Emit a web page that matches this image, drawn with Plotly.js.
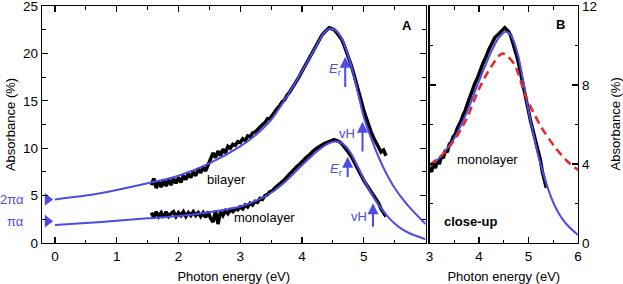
<!DOCTYPE html>
<html><head><meta charset="utf-8">
<script src="https://cdn.plot.ly/plotly-3.0.1.min.js"></script>
<style>html,body{margin:0;padding:0;background:#fff}</style>
</head><body><div id="chart" style="width:623px;height:284px"></div>
<script>
// measured data (photon energy, eV)
const energy = [1.56,1.60,1.64,1.68,1.72,1.76,1.80,1.84,1.88,1.92,1.96,
2.00,2.04,2.08,2.12,2.16,2.20,2.24,2.28,2.32,2.36,2.40,2.44,2.48,2.52,2.56,2.60,2.64,2.68,2.72,2.76,2.80,2.84,2.88,2.92,2.96,
3.00,3.04,3.08,3.12,3.16,3.20,3.24,3.28,3.32,3.36,3.40,3.44,3.48,3.52,3.56,3.60,3.64,3.68,3.72,3.76,3.80,3.84,3.88,3.92,3.96,
4.00,4.04,4.08,4.12,4.16,4.20,4.24,4.28,4.32,4.36,4.40,4.44,4.48,4.52,4.56,4.60,4.64,4.68,4.72,4.76,4.80,4.84,4.88,4.92,4.96,
5.00,5.04,5.08,5.12,5.16,5.20,5.24,5.28,5.32,5.36];
// measured absorbance (%)
const bilayerData = [6.1,6.8,5.8,6.5,5.9,6.6,6.0,6.7,6.1,6.8,6.3,
6.9,6.4,7.1,6.7,7.3,6.9,7.5,7.1,7.8,7.4,8.0,7.6,8.3,8.9,9.5,9.0,9.7,9.2,9.9,9.5,10.2,10.0,10.4,10.3,10.7,
10.6,11.0,10.8,11.3,11.2,11.6,11.7,12.0,12.2,12.5,12.7,13.1,13.1,13.5,13.8,14.2,14.5,14.9,15.1,15.6,15.9,16.3,16.7,17.2,17.6,
18.1,18.6,19.1,19.6,20.1,20.6,21.0,21.5,21.9,22.2,22.5,22.7,22.6,22.5,22.2,21.9,21.5,20.9,20.2,19.5,18.7,17.8,16.8,15.8,14.9,
14.0,13.2,12.4,11.7,11.1,10.5,10.1,9.6,9.8,9.2];
const monolayerData = [3.2,2.7,3.3,2.8,3.2,2.7,3.3,2.8,3.1,3.3,2.8,
3.2,2.9,3.3,2.8,3.2,2.9,3.3,2.9,3.2,2.8,3.2,2.7,3.3,2.6,2.2,3.4,2.0,3.3,2.9,3.4,3.1,3.5,3.3,3.6,3.5,
3.8,3.6,4.0,3.8,4.2,4.0,4.4,4.3,4.7,4.6,5.0,5.1,5.4,5.5,5.8,6.0,6.2,6.5,6.7,7.0,7.3,7.5,7.8,8.1,8.3,
8.6,8.8,9.1,9.3,9.6,9.8,10.0,10.2,10.4,10.5,10.6,10.7,10.8,10.9,10.8,10.7,10.5,10.2,9.9,9.5,9.1,8.6,8.1,7.6,7.0,
6.6,6.2,5.8,5.4,5.0,4.7,4.2,3.6,3.2,2.8];
// model fits
const fitEnergyBi = [0,0.5,1,1.5,2,2.5,3,3.25,3.5,3.75,4,4.25,4.35,4.45,4.55,4.65,4.78,4.89,5.0,5.1,5.2,5.3,5.4,5.5,5.6,5.75,6.0];
const fitBilayer  = [4.6,5.0,5.6,6.3,7.1,8.4,10.2,11.4,13.0,15.4,18.1,21.0,22.1,22.6,22.4,21.5,19.1,16.3,13.3,11.4,9.7,8.2,6.9,5.8,4.9,3.7,2.0];
const fitEnergyMono = [0,0.5,1,1.5,2,2.5,3,3.25,3.5,3.75,4,4.25,4.4,4.54,4.65,4.78,4.9,5.0,5.1,5.2,5.3,5.4,5.5,5.6,5.75,6.0];
const fitMonolayer  = [1.9,2.1,2.35,2.6,2.85,3.25,3.85,4.45,5.3,6.6,8.2,9.7,10.4,10.7,10.5,9.6,8.1,6.7,5.5,4.4,3.5,2.7,2.05,1.55,1.0,0.4];
const redEnergy = [3.0,3.25,3.5,3.75,4.0,4.25,4.47,4.7,4.95,5.25,5.55,5.8,6.0];
const redCurve  = [3.95,4.45,5.2,6.3,7.8,8.95,9.6,9.1,7.4,5.9,4.8,4.1,3.7];
// universal levels
const levelLabels = ['2πα','πα'];
const levelValues = [4.6, 2.3];
// x tick labels
const xTicksA = [0,1,2,3,4,5];
const xTicksB = [3,4,5,6];

const BLUE = '#4b4be6';
const RED = '#e8262b';
const FONT = 'Liberation Sans, Arial, sans-serif';

const traces = [
  {x: energy, y: bilayerData, xaxis:'x', yaxis:'y', mode:'lines', line:{color:'#000', width:3.5}},
  {x: energy, y: monolayerData, xaxis:'x', yaxis:'y', mode:'lines', line:{color:'#000', width:3.5}},
  {x: fitEnergyBi, y: fitBilayer, xaxis:'x', yaxis:'y', mode:'lines', line:{color:BLUE, width:2, shape:'spline', smoothing:0.8}},
  {x: fitEnergyMono, y: fitMonolayer, xaxis:'x', yaxis:'y', mode:'lines', line:{color:BLUE, width:2, shape:'spline', smoothing:0.8}},
  {x: levelValues.map(()=>-0.12), y: levelValues, xaxis:'x', yaxis:'y', mode:'markers', cliponaxis:false,
   marker:{symbol:'triangle-right', size:11, color:BLUE, line:{width:0}}},
  {x: energy, y: monolayerData, xaxis:'x2', yaxis:'y2', mode:'lines', line:{color:'#000', width:3.5}},
  {x: fitEnergyMono, y: fitMonolayer, xaxis:'x2', yaxis:'y2', mode:'lines', line:{color:BLUE, width:2, shape:'spline', smoothing:0.8}},
  {x: redEnergy, y: redCurve, xaxis:'x2', yaxis:'y2', mode:'lines', line:{color:RED, width:2.5, dash:'8px,5px', shape:'spline', smoothing:0.8}}
];

const axBase = {showline:true, linecolor:'#000', linewidth:1.3, mirror:'ticks', ticks:'inside', ticklen:6, tickwidth:1.1, tickcolor:'#000',
  showgrid:false, zeroline:false, ticklabeloverflow:'allow', tickfont:{size:13.5, family:FONT, color:'#000'}};

function arrow(xr, yr, x, y0, y1){
  return {xref:xr, yref:yr, axref:xr, ayref:yr, x:x, y:y1, ax:x, ay:y0, text:'', showarrow:true,
    arrowhead:2, arrowsize:1.1, arrowwidth:2, arrowcolor:BLUE, standoff:0, startstandoff:0};
}
function label(xr, yr, x, y, t, opts){
  return Object.assign({xref:xr, yref:yr, x:x, y:y, text:t, showarrow:false, xanchor:'center', yanchor:'middle',
    font:{size:13, family:FONT, color:'#000'}}, opts||{});
}

const annotations = [
  label('x','y',5.7,22.9,'<b>A</b>'),
  label('x2','y2',5.65,11.04,'<b>B</b>'),
  label('x','y',2.78,6.65,'bilayer'),
  label('x','y',3.4,2.7,'monolayer'),
  label('x2','y2',4.17,4.24,'monolayer'),
  label('x2','y2',3.83,1.08,'<b>close-up</b>'),
  label('x','y',4.53,18.3,'<i>E</i><sub>r</sub>',{font:{size:13,family:FONT,color:BLUE}}),
  label('x','y',4.73,11.6,'vH',{font:{size:13,family:FONT,color:BLUE}}),
  label('x','y',4.55,7.8,'<i>E</i><sub>r</sub>',{font:{size:13,family:FONT,color:BLUE}}),
  label('x','y',4.92,2.8,'vH',{font:{size:13,family:FONT,color:BLUE}}),
  arrow('x','y',4.70,16.3,19.65),
  arrow('x','y',4.98,9.5,12.8),
  arrow('x','y',4.74,6.8,9.1),
  arrow('x','y',5.15,1.55,4.2),
  label('x','y',-0.21,levelValues[0],levelLabels[0],{xanchor:'right', xshift:-16, font:{size:13,family:FONT,color:BLUE}}),
  label('x','y',-0.21,levelValues[1],levelLabels[1],{xanchor:'right', xshift:-16, font:{size:13,family:FONT,color:BLUE}}),
  {xref:'paper', yref:'paper', x:1, y:0.5, xshift:37, text:'Absorbance (%)', textangle:-90, showarrow:false,
   xanchor:'center', yanchor:'middle', font:{size:13, family:FONT, color:'#000'}}
];

const layout = {
  width:623, height:284, showlegend:false,
  margin:{l:42, r:45, t:6, b:41, pad:0},
  paper_bgcolor:'#fff', plot_bgcolor:'#fff',
  font:{family:FONT, size:13, color:'#000'},
  xaxis: Object.assign({}, axBase, {domain:[0,0.7155], range:[-0.21,6.0], tickmode:'array', tickvals:xTicksA,
    minor:{tickmode:'linear', tick0:0, dtick:0.5, ticks:'inside', ticklen:3.5, tickcolor:'#000', tickwidth:1},
    title:{text:'Photon energy (eV)', font:{size:13, family:FONT}, standoff:10}, anchor:'y'}),
  yaxis: Object.assign({}, axBase, {domain:[0,1], range:[0,25], tick0:0, dtick:5,
    minor:{tick0:0, dtick:2.5, ticks:'inside', ticklen:3.5, tickcolor:'#000', tickwidth:1},
    title:{text:'Absorbance (%)', font:{size:13, family:FONT}, standoff:4}, anchor:'x'}),
  xaxis2: Object.assign({}, axBase, {domain:[0.723,1], range:[3,6], tickmode:'array', tickvals:xTicksB,
    minor:{tickmode:'linear', tick0:3, dtick:0.5, ticks:'inside', ticklen:3.5, tickcolor:'#000', tickwidth:1},
    title:{text:'Photon energy (eV)', font:{size:13, family:FONT}, standoff:10}, anchor:'y2'}),
  yaxis2: Object.assign({}, axBase, {domain:[0,1], range:[0,12], tick0:0, dtick:4, side:'right',
    minor:{tick0:0, dtick:2, ticks:'inside', ticklen:3.5, tickcolor:'#000', tickwidth:1},
    anchor:'x2'}),
  annotations: annotations
};

Plotly.newPlot('chart', traces, layout, {staticPlot:true, displayModeBar:false});
</script>
</body></html>
